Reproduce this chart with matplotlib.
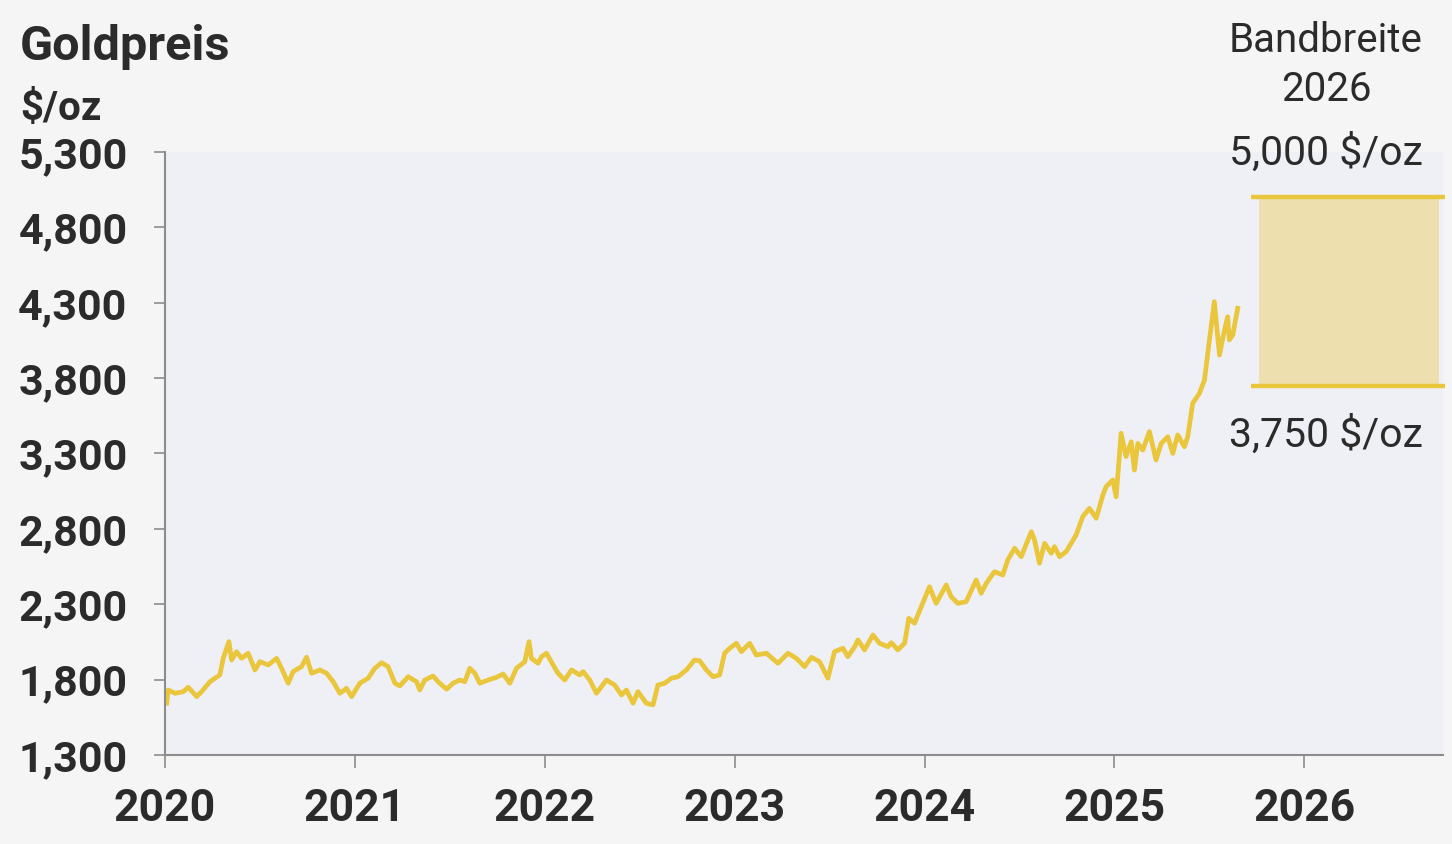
import matplotlib.pyplot as plt

# Goldpreis in $/oz (decimal year, price)
years = [
    2020.009, 2020.017, 2020.053, 2020.096, 2020.123, 2020.167, 2020.193, 2020.237,
    2020.289, 2020.307, 2020.337, 2020.351, 2020.377, 2020.404, 2020.438, 2020.474,
    2020.500, 2020.544, 2020.588, 2020.614, 2020.649, 2020.675, 2020.719, 2020.746,
    2020.772, 2020.816, 2020.851, 2020.886, 2020.921, 2020.956, 2020.983, 2021.026,
    2021.070, 2021.105, 2021.141, 2021.175, 2021.211, 2021.237, 2021.281, 2021.325,
    2021.342, 2021.368, 2021.412, 2021.438, 2021.483, 2021.517, 2021.553, 2021.579,
    2021.605, 2021.632, 2021.658, 2021.702, 2021.746, 2021.781, 2021.816, 2021.851,
    2021.895, 2021.917, 2021.930, 2021.965, 2021.983, 2022.009, 2022.044, 2022.070,
    2022.105, 2022.141, 2022.184, 2022.202, 2022.237, 2022.272, 2022.325, 2022.368,
    2022.404, 2022.430, 2022.465, 2022.491, 2022.535, 2022.570, 2022.596, 2022.632,
    2022.667, 2022.702, 2022.746, 2022.789, 2022.816, 2022.851, 2022.886, 2022.921,
    2022.947, 2022.974, 2023.009, 2023.035, 2023.079, 2023.114, 2023.167, 2023.228,
    2023.281, 2023.325, 2023.368, 2023.404, 2023.447, 2023.491, 2023.526, 2023.570,
    2023.596, 2023.632, 2023.649, 2023.684, 2023.728, 2023.763, 2023.807, 2023.825,
    2023.859, 2023.895, 2023.917, 2023.947, 2023.983, 2024.026, 2024.061, 2024.114,
    2024.140, 2024.175, 2024.219, 2024.272, 2024.298, 2024.325, 2024.368, 2024.412,
    2024.438, 2024.474, 2024.509, 2024.562, 2024.579, 2024.605, 2024.632, 2024.667,
    2024.684, 2024.711, 2024.746, 2024.798, 2024.833, 2024.868, 2024.904, 2024.939,
    2024.956, 2024.991, 2025.009, 2025.035, 2025.061, 2025.088, 2025.105, 2025.123,
    2025.149, 2025.184, 2025.219, 2025.246, 2025.281, 2025.307, 2025.333, 2025.368,
    2025.386, 2025.412, 2025.447, 2025.474, 2025.500, 2025.526, 2025.553, 2025.570,
    2025.596, 2025.605, 2025.623, 2025.649,
]
prices = [
    1643, 1731, 1709, 1720, 1749, 1687, 1720, 1786,
    1831, 1941, 2052, 1930, 1985, 1941, 1975, 1864,
    1919, 1897, 1941, 1875, 1776, 1853, 1886, 1948,
    1842, 1864, 1842, 1786, 1709, 1742, 1687, 1776,
    1809, 1875, 1912, 1886, 1776, 1758, 1819, 1786,
    1731, 1797, 1824, 1786, 1736, 1776, 1797, 1786,
    1875, 1842, 1776, 1797, 1815, 1837, 1776, 1875,
    1919, 2052, 1941, 1908, 1952, 1975, 1897, 1842,
    1797, 1864, 1831, 1853, 1797, 1709, 1797, 1764,
    1698, 1731, 1643, 1720, 1643, 1632, 1764, 1776,
    1809, 1819, 1864, 1930, 1925, 1864, 1819, 1831,
    1975, 2008, 2041, 1985, 2041, 1963, 1975, 1908,
    1975, 1941, 1886, 1948, 1919, 1809, 1985, 2008,
    1952, 2018, 2063, 1997, 2096, 2041, 2018, 2045,
    1997, 2041, 2207, 2174, 2284, 2416, 2306, 2428,
    2350, 2306, 2317, 2461, 2372, 2439, 2516, 2494,
    2593, 2671, 2615, 2781, 2726, 2572, 2704, 2638,
    2682, 2615, 2649, 2759, 2881, 2936, 2870, 3025,
    3080, 3124, 3013, 3434, 3279, 3378, 3190, 3367,
    3323, 3445, 3257, 3367, 3411, 3301, 3423, 3345,
    3411, 3633, 3698, 3787, 4053, 4307, 3953, 4064,
    4207, 4053, 4086, 4263,
]

band_low = 3750
band_high = 5000
band_start = 2025.76
band_end = 2026.71

x_ticks = [2020, 2021, 2022, 2023, 2024, 2025, 2026]
y_ticks = [1300, 1800, 2300, 2800, 3300, 3800, 4300, 4800, 5300]

gold = "#e9c63c"
band_fill = "#ede0ae"
grey = "#8c8c8c"
ink = "#2b2b2b"

plt.rcParams["font.family"] = ["Roboto", "DejaVu Sans"]

fig = plt.figure(figsize=(14.52, 8.44), dpi=100, facecolor="#f5f5f5")
ax = fig.add_axes([0.1136, 0.1055, 0.8802, 0.7144])
ax.set_facecolor("#eff0f5")

ax.plot(years, prices, color=gold, lw=3.4, solid_joinstyle="round")

# forecast range 2026
ax.fill_between([band_start, band_end], band_low, band_high, color=band_fill, lw=0)
ax.hlines([band_low, band_high], band_start - 0.04, band_end + 0.03,
          color=gold, lw=3.2, clip_on=False)

ax.set_xlim(2020, 2026.73)
ax.set_ylim(1300, 5300)
ax.set_xticks(x_ticks)
ax.set_yticks(y_ticks)
ax.set_yticklabels([f"{v:,}" for v in y_ticks])

for side in ["top", "right"]:
    ax.spines[side].set_visible(False)
for side in ["left", "bottom"]:
    ax.spines[side].set_color(grey)
    ax.spines[side].set_linewidth(1.5)

ax.tick_params(axis="y", length=8, width=1.2, color=grey, pad=19,
               labelsize=31, labelcolor=ink)
ax.tick_params(axis="x", length=9, width=1.2, color=grey, pad=15,
               labelsize=32, labelcolor=ink)
for lbl in ax.get_xticklabels() + ax.get_yticklabels():
    lbl.set_fontweight("bold")

fig.text(20 / 1452, 1 - 60 / 844, "Goldpreis", fontsize=35, fontweight="bold",
         color=ink, va="baseline", ha="left")
fig.text(20 / 1452, 1 - 120 / 844, "$/oz", fontsize=29, fontweight="bold",
         color=ink, va="baseline", ha="left")

cx = 1326 / 1452
fig.text(cx, 1 - 52 / 844, "Bandbreite", fontsize=29, color=ink,
         va="baseline", ha="center")
fig.text(cx, 1 - 101 / 844, "2026", fontsize=29, color=ink,
         va="baseline", ha="center")
fig.text(cx, 1 - 165 / 844, "5,000 $/oz", fontsize=29.5, color=ink,
         va="baseline", ha="center")
fig.text(cx, 1 - 447 / 844, "3,750 $/oz", fontsize=29.5, color=ink,
         va="baseline", ha="center")

fig.savefig("out.png", dpi=100, facecolor=fig.get_facecolor())
